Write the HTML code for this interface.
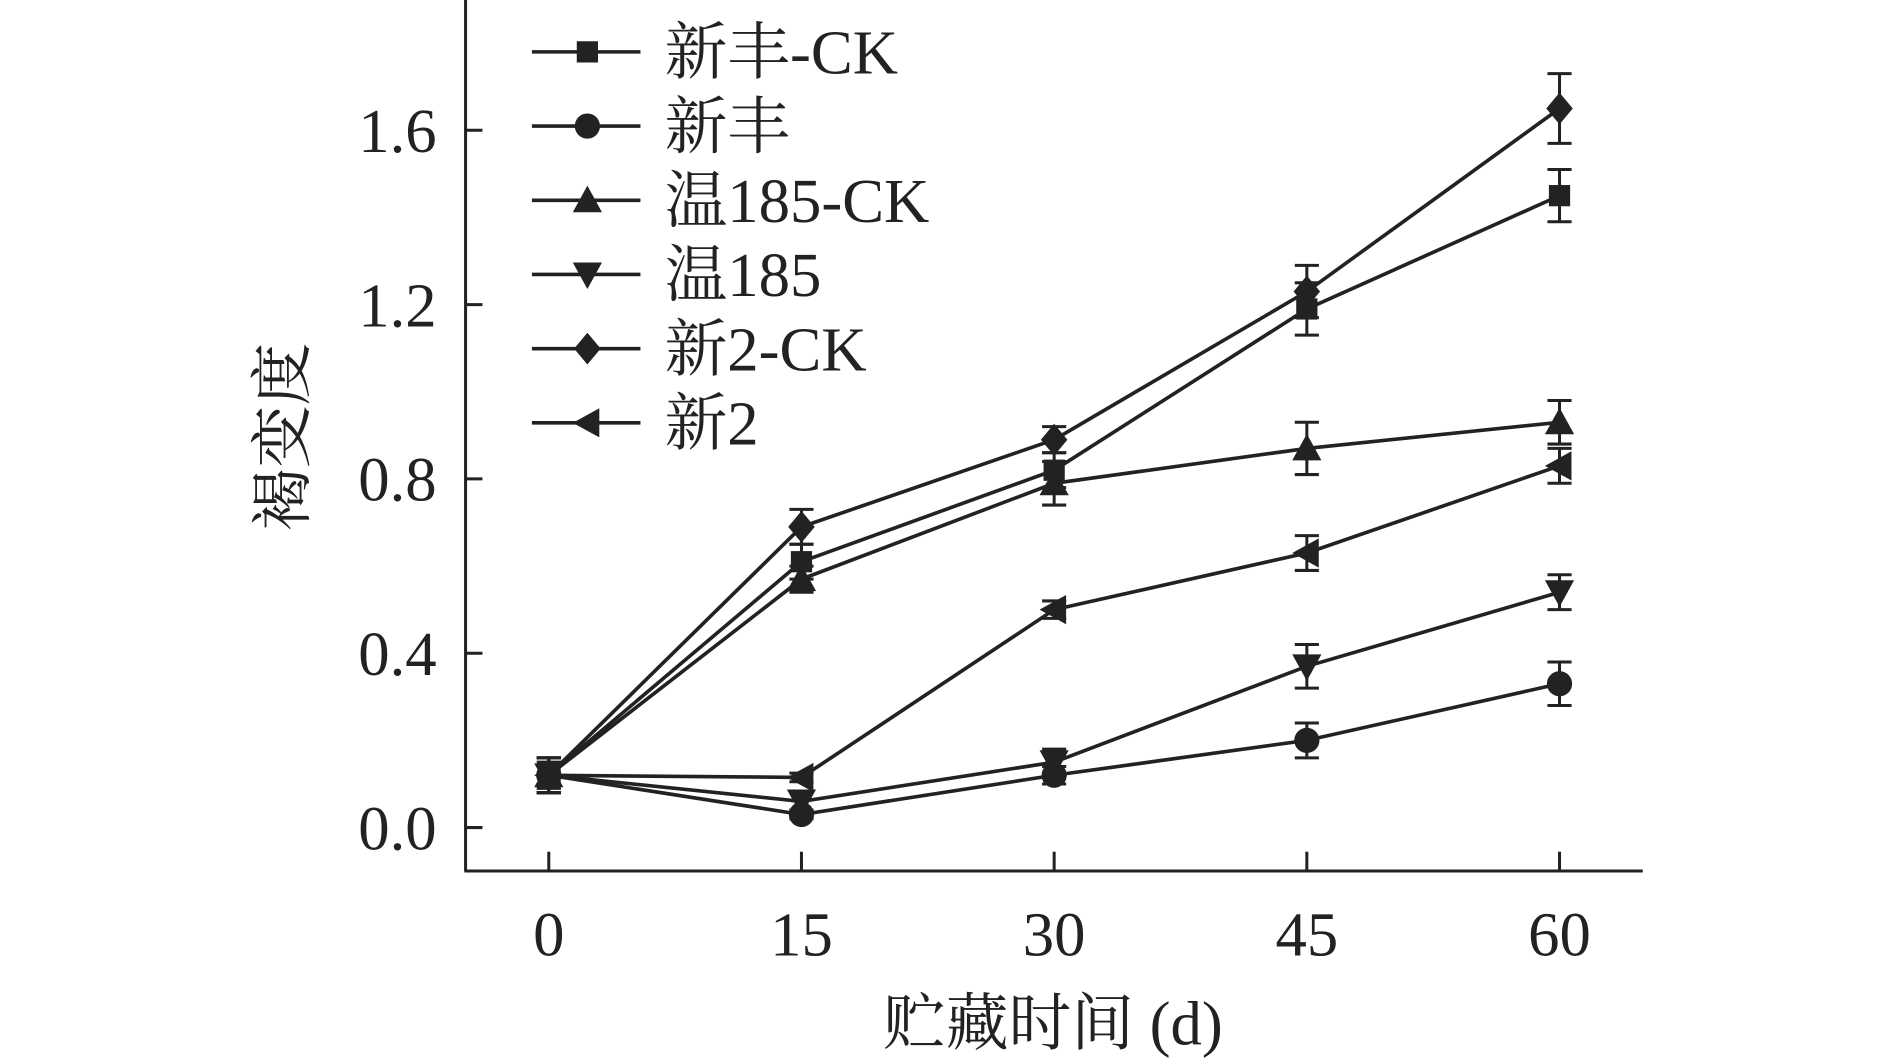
<!DOCTYPE html>
<html><head><meta charset="utf-8"><style>
html,body{margin:0;padding:0;background:#fff;}
svg{display:block;}
text{font-family:"Liberation Serif","Noto Serif CJK SC",serif;fill:#222;}
</style></head><body>
<svg id="chart" width="1890" height="1064" viewBox="0 0 1567 882" preserveAspectRatio="none" xmlns="http://www.w3.org/2000/svg">
<g id="axes"></g>
<g id="series"></g>
<g id="legend"></g>
<text transform="translate(252,362) rotate(-90)" text-anchor="middle" font-size="52">褐变度</text>
<text x="873" y="866" text-anchor="middle" font-size="52">贮藏时间 (d)</text>
</svg>
<script>
const days = [0, 15, 30, 45, 60];
const yTicks = [0.0, 0.4, 0.8, 1.2, 1.6];
const seriesNames = ["新丰-CK", "新丰", "温185-CK", "温185", "新2-CK", "新2"];
const markers = ["square", "circle", "tri-up", "tri-down", "diamond", "tri-left"];
const xfckVals = [0.12, 0.61, 0.82, 1.19, 1.45];
const xfckErr = [0.03, 0.04, 0.04, 0.06, 0.06];
const xfVals = [0.12, 0.03, 0.12, 0.20, 0.33];
const xfErr = [0.04, 0.01, 0.02, 0.04, 0.05];
const w185ckVals = [0.12, 0.57, 0.79, 0.87, 0.93];
const w185ckErr = [0.04, 0.03, 0.05, 0.06, 0.05];
const w185Vals = [0.12, 0.06, 0.15, 0.37, 0.54];
const w185Err = [0.04, 0.02, 0.03, 0.05, 0.04];
const x2ckVals = [0.12, 0.69, 0.89, 1.23, 1.65];
const x2ckErr = [0.04, 0.04, 0.03, 0.06, 0.08];
const x2Vals = [0.12, 0.115, 0.50, 0.63, 0.83];
const x2Err = [0.04, 0.01, 0.02, 0.04, 0.04];

const allVals = [xfckVals, xfVals, w185ckVals, w185Vals, x2ckVals, x2Vals];
const allErr = [xfckErr, xfErr, w185ckErr, w185Err, x2ckErr, x2Err];
const NS = "http://www.w3.org/2000/svg";
const C = "#222";
function xS(d){ return 455 + (d - 0) / 60 * (1293 - 455); }
function yS(v){ return 686 - v / 1.6 * (686 - 108); }
function mk(tag, attrs, parent){
  const e = document.createElementNS(NS, tag);
  for (const k in attrs) e.setAttribute(k, attrs[k]);
  parent.appendChild(e);
  return e;
}
function marker(type, cx, cy, s, parent){
  let e;
  if (type === "square") e = mk("rect", {x: cx - s*0.8, y: cy - s*0.8, width: s*1.6, height: s*1.6, fill: C}, parent);
  else if (type === "circle") e = mk("circle", {cx: cx, cy: cy, r: s*0.95, fill: C}, parent);
  else if (type === "tri-up") e = mk("polygon", {points: `${cx},${cy-s*1.1} ${cx+s*1.1},${cy+s*0.9} ${cx-s*1.1},${cy+s*0.9}`, fill: C}, parent);
  else if (type === "tri-down") e = mk("polygon", {points: `${cx},${cy+s*1.1} ${cx+s*1.1},${cy-s*0.9} ${cx-s*1.1},${cy-s*0.9}`, fill: C}, parent);
  else if (type === "diamond") e = mk("polygon", {points: `${cx},${cy-s*1.2} ${cx+s*1.0},${cy} ${cx},${cy+s*1.2} ${cx-s*1.0},${cy}`, fill: C}, parent);
  else e = mk("polygon", {points: `${cx-s*1.1},${cy} ${cx+s*0.9},${cy-s*1.1} ${cx+s*0.9},${cy+s*1.1}`, fill: C}, parent);
  return e;
}
const axes = document.getElementById("axes");
const a1 = mk("line", {x1: 386, y1: 0, x2: 386, y2: 722, stroke: C, "stroke-width": 2.5}, axes);


const a2 = mk("line", {x1: 385, y1: 722, x2: 1362, y2: 722, stroke: C, "stroke-width": 2.5}, axes);


yTicks.forEach(v => {
  const y = yS(v);
  mk("line", {x1: 386, y1: y, x2: 400, y2: y, stroke: C, "stroke-width": 2.5}, axes);
  const t = mk("text", {x: 362, y: y + 18, "text-anchor": "end", "font-size": 52}, axes);
  t.textContent = v.toFixed(1);
  
  
});
days.forEach(d => {
  const x = xS(d);
  mk("line", {x1: x, y1: 722, x2: x, y2: 706, stroke: C, "stroke-width": 2.5}, axes);
  const t = mk("text", {x: x, y: 792, "text-anchor": "middle", "font-size": 52}, axes);
  t.textContent = String(d);
  
  
});
const sg = document.getElementById("series");
allVals.forEach((vals, i) => {
  const g = mk("g", {}, sg);
  
  
  const pts = vals.map((v, j) => xS(days[j]) + "," + yS(v)).join(" ");
  mk("polyline", {points: pts, fill: "none", stroke: C, "stroke-width": 3}, g);
  vals.forEach((v, j) => {
    const x = xS(days[j]), e = allErr[i][j];
    const y1 = yS(v + e), y2 = yS(v - e);
    mk("line", {x1: x, y1: y1, x2: x, y2: y2, stroke: C, "stroke-width": 2.5}, g);
    mk("line", {x1: x - 10, y1: y1, x2: x + 10, y2: y1, stroke: C, "stroke-width": 2.5}, g);
    mk("line", {x1: x - 10, y1: y2, x2: x + 10, y2: y2, stroke: C, "stroke-width": 2.5}, g);
    const m = marker(markers[i], x, yS(v), 11, g);
    
    
  });
});
const lg = document.getElementById("legend");
seriesNames.forEach((n, i) => {
  const y = 43 + i * 61.5;
  const g = mk("g", {}, lg);
  
  
  mk("line", {x1: 441, y1: y, x2: 531, y2: y, stroke: C, "stroke-width": 3}, g);
  marker(markers[i], 487, y, 11, g);
  const t = mk("text", {x: 551, y: y + 18, "font-size": 52}, g);
  t.textContent = n;
});
</script>
</body></html>
